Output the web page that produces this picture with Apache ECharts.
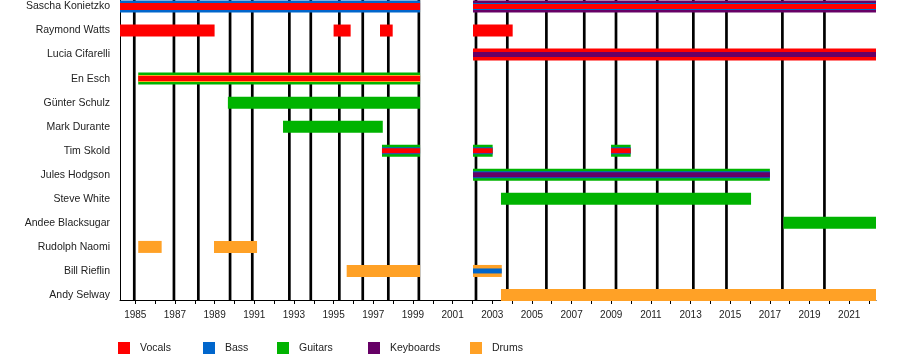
<!DOCTYPE html>
<html>
<head>
<meta charset="utf-8">
<script src="https://cdn.jsdelivr.net/npm/echarts@6/dist/echarts.min.js"></script>
<style>
html,body{margin:0;padding:0;background:#fff;}
#chart{width:900px;height:360px;}
</style>
</head>
<body>
<div id="chart"></div>
<script>
const members = ['Sascha Konietzko','Raymond Watts','Lucia Cifarelli','En Esch','Günter Schulz','Mark Durante','Tim Skold','Jules Hodgson','Steve White','Andee Blacksugar','Rudolph Naomi','Bill Rieflin','Andy Selway'];
const instruments = ['Vocals','Bass','Guitars','Keyboards','Drums'];
const instrumentColors = ['#ff0000','#0066cc','#00b300','#660066','#ffa126'];
const albumYears = [1984.95,1986.95,1988.18,1989.78,1990.90,1992.77,1993.85,1995.29,1996.47,1997.76,1999.30,2002.18,2003.76,2005.73,2007.64,2009.24,2011.32,2013.14,2014.81,2017.63,2019.75];
const yearTicks = [1985,1986,1987,1988,1989,1990,1991,1992,1993,1994,1995,1996,1997,1998,1999,2000,2001,2002,2003,2004,2005,2006,2007,2008,2009,2010,2011,2012,2013,2014,2015,2016,2017,2018,2019,2020,2021,2022];
const yearLabels = [1985,1987,1989,1991,1993,1995,1997,1999,2001,2003,2005,2007,2009,2011,2013,2015,2017,2019,2021];
const timelineStart = 1984.23;
const timelineEnd = 2022.35;
// member, from, to, primary role, secondary role, tertiary role
const periods = [
  ['Sascha Konietzko', 1984.23, 1999.36, 'Bass', 'Vocals', null],
  ['Sascha Konietzko', 2002.03, 2022.35, 'Keyboards', 'Bass', 'Vocals'],
  ['Raymond Watts', 1984.23, 1989.00, 'Vocals', null, null],
  ['Raymond Watts', 1995.00, 1995.86, 'Vocals', null, null],
  ['Raymond Watts', 1997.34, 1997.98, 'Vocals', null, null],
  ['Raymond Watts', 2002.03, 2004.03, 'Vocals', null, null],
  ['Lucia Cifarelli', 2002.03, 2022.35, 'Vocals', null, 'Keyboards'],
  ['En Esch', 1985.15, 1999.36, 'Guitars', 'Drums', 'Vocals'],
  ['Günter Schulz', 1989.67, 1999.36, 'Guitars', null, null],
  ['Mark Durante', 1992.45, 1997.48, 'Guitars', null, null],
  ['Tim Skold', 1997.44, 1999.36, 'Guitars', 'Bass', 'Vocals'],
  ['Tim Skold', 2002.03, 2003.02, 'Guitars', 'Bass', 'Vocals'],
  ['Tim Skold', 2008.99, 2009.98, 'Guitars', 'Bass', 'Vocals'],
  ['Jules Hodgson', 2002.03, 2017.00, 'Guitars', 'Bass', 'Keyboards'],
  ['Steve White', 2003.44, 2016.05, 'Guitars', null, null],
  ['Andee Blacksugar', 2017.68, 2022.35, 'Guitars', null, null],
  ['Rudolph Naomi', 1985.15, 1986.33, 'Drums', null, null],
  ['Rudolph Naomi', 1988.97, 1991.14, 'Drums', null, null],
  ['Bill Rieflin', 1995.66, 1999.36, 'Drums', null, null],
  ['Bill Rieflin', 2002.03, 2003.48, 'Drums', null, 'Bass'],
  ['Andy Selway', 2003.44, 2022.35, 'Drums', null, null]
];

const tierHeights = [12, 7, 5];
const seriesData = {};
instruments.forEach(n => seriesData[n] = []);
periods.forEach(p => {
  const row = members.indexOf(p[0]);
  for (let t = 0; t < 3; t++) {
    const role = p[3 + t];
    if (role) seriesData[role].push([p[1], p[2], row, t]);
  }
});

function renderBar(params, api) {
  const from = api.value(0), to = api.value(1), row = api.value(2), tier = api.value(3);
  const a = api.coord([from, row]);
  const b = api.coord([to, row]);
  const h = tierHeights[tier];
  return {
    type: 'rect',
    shape: { x: a[0], y: a[1] - h / 2, width: b[0] - a[0], height: h },
    style: { fill: api.visual('color') },
    z2: 10 + tier * 10
  };
}
function renderAlbum(params, api) {
  const cs = params.coordSys;
  const x = api.coord([api.value(0), 0])[0];
  return {
    type: 'line',
    shape: { x1: x, y1: cs.y, x2: x, y2: cs.y + cs.height },
    style: { stroke: '#000', lineWidth: 2.7 }
  };
}

const font = "'Liberation Sans', Arial, Helvetica, sans-serif";
const legendLeft = [118, 203, 277, 368, 470];

const series = [{
  type: 'custom',
  name: 'albums',
  renderItem: renderAlbum,
  data: albumYears.map(y => [y]),
  encode: { x: 0 },
  z: 1,
  silent: true
}];
instruments.forEach((n, i) => {
  series.push({
    type: 'custom',
    name: n,
    renderItem: renderBar,
    itemStyle: { color: instrumentColors[i] },
    data: seriesData[n],
    encode: { x: [0, 1], y: 2 },
    z: 2,
    clip: false
  });
});

const chart = echarts.init(document.getElementById('chart'), null, { renderer: 'canvas' });
chart.setOption({
  animation: false,
  backgroundColor: '#fff',
  grid: { left: 120, top: 0, width: 756, height: 300, containLabel: false },
  xAxis: {
    type: 'value',
    position: 'bottom',
    min: timelineStart,
    max: timelineEnd,
    splitLine: { show: false },
    axisLine: { show: true, onZero: false, lineStyle: { color: '#000', width: 1 } },
    axisTick: { show: true, customValues: yearTicks, length: 4, lineStyle: { color: '#000', width: 1 } },
    axisLabel: { customValues: yearLabels, formatter: v => String(Math.round(v)), color: '#222', fontSize: 10, fontFamily: font, margin: 10 }
  },
  yAxis: {
    type: 'value',
    position: 'left',
    inverse: true,
    min: -0.27,
    max: 12.208,
    splitLine: { show: false },
    axisLine: { show: true, onZero: false, lineStyle: { color: '#000', width: 1 } },
    axisTick: { show: false },
    axisLabel: {
      customValues: members.map((m, i) => i),
      formatter: v => members[Math.round(v)] || '',
      color: '#222', fontSize: 10.5, fontFamily: font, margin: 10
    }
  },
  legend: instruments.map((n, i) => ({
    data: [n],
    left: legendLeft[i],
    top: 342,
    icon: 'rect',
    itemWidth: 12,
    itemHeight: 12,
    itemGap: 0,
    padding: 0,
    selectedMode: false,
    textStyle: { color: '#222', fontSize: 10.5, fontFamily: font, padding: [0, 0, 0, 5] }
  })),
  series: series
});
</script>
</body>
</html>
